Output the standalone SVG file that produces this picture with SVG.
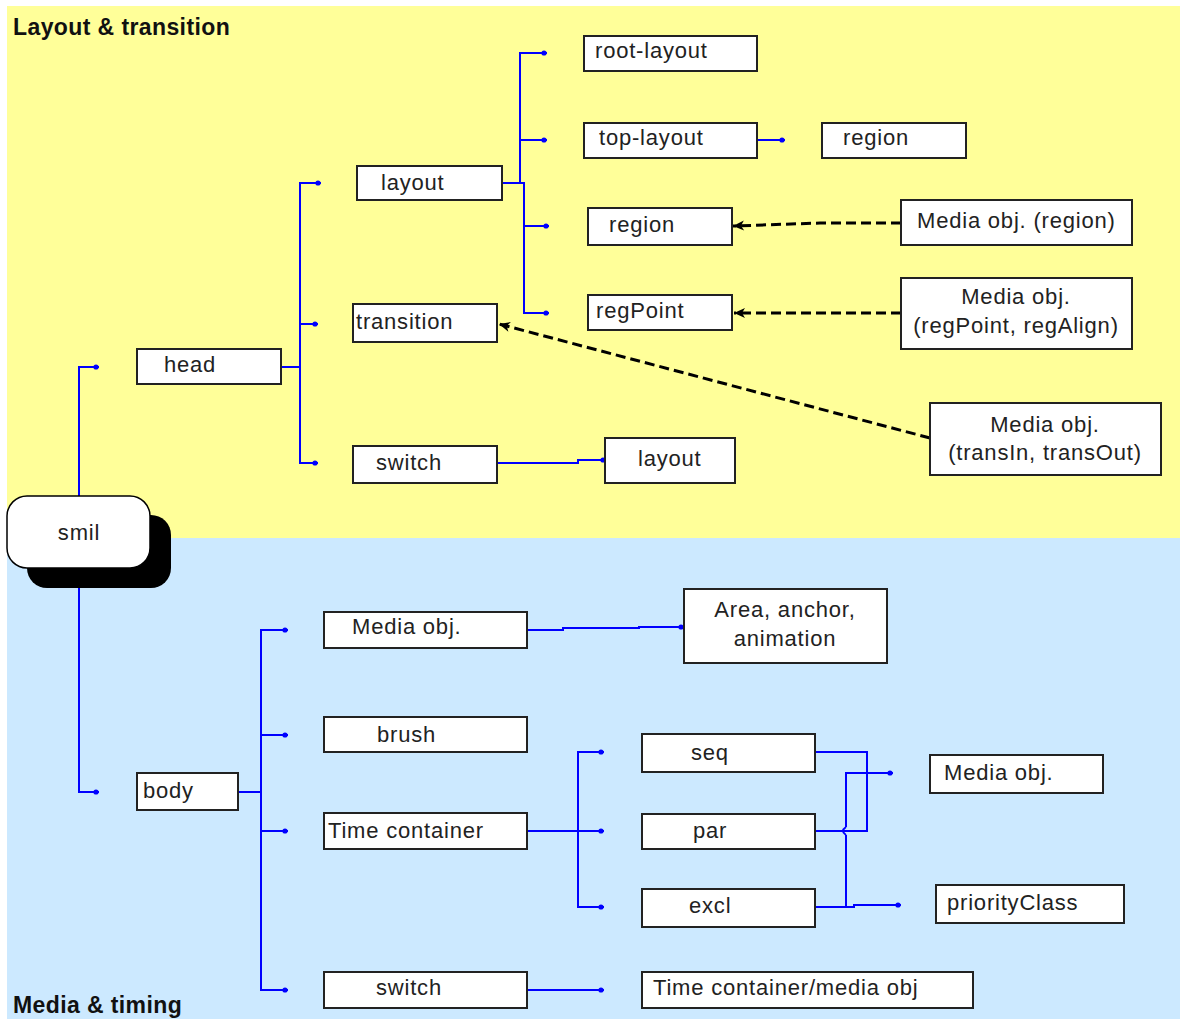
<svg xmlns="http://www.w3.org/2000/svg" width="1180" height="1019" viewBox="0 0 1180 1019">
<style>
.box{fill:#fff;stroke:#222;stroke-width:2}
.t{font-family:"Liberation Sans",Arial,sans-serif;font-size:22px;fill:#222;letter-spacing:0.8px}
.tc{text-anchor:middle}
.title{font-family:"Liberation Sans",Arial,sans-serif;font-size:23px;font-weight:bold;fill:#111;letter-spacing:0.4px}
.c{fill:none;stroke:#0000ff;stroke-width:2}
.cd{marker-end:url(#dot)}
.d{fill:none;stroke:#000;stroke-width:3;stroke-dasharray:10 5;marker-end:url(#arr)}
</style>
<defs>
<marker id="dot" markerUnits="userSpaceOnUse" markerWidth="10" markerHeight="10" viewBox="-6 -5 10 10" refX="0" refY="0" orient="auto">
<circle cx="-3" cy="0" r="2.6" fill="#0000ff"/>
</marker>
<marker id="arr" markerUnits="userSpaceOnUse" markerWidth="14" markerHeight="14" viewBox="-12 -6 14 12" refX="0" refY="0" orient="auto">
<path d="M0,0 L-11,-5 L-8,0 L-11,5 z" fill="#000"/>
</marker>
</defs>
<rect x="0" y="0" width="1180" height="1019" fill="#fff"/>
<rect x="7" y="6" width="1173" height="532" fill="#ffff99"/>
<rect x="7" y="538" width="1173" height="481" fill="#cce9ff"/>
<text class="title" x="13" y="35">Layout &amp; transition</text>
<text class="title" x="13" y="1013">Media &amp; timing</text>

<g id="connectors">
<path class="c cd" d="M79,496 V367 H99"/>
<path class="c cd" d="M79,568 V792 H99"/>
<path class="c" d="M281,367 H300"/>
<path class="c cd" d="M300,367 V183 H321"/>
<path class="c cd" d="M300,324 H318"/>
<path class="c cd" d="M300,367 V463 H318"/>
<path class="c" d="M502,183 H520"/>
<path class="c cd" d="M520,183 V53 H547"/>
<path class="c cd" d="M520,140 H547"/>
<path class="c cd" d="M520,183 H524 V226 H549"/>
<path class="c cd" d="M524,226 V313 H549"/>
<path class="c cd" d="M757,140 H785"/>
<path class="c cd" d="M497,463 H578 V460 H606"/>
<path class="c" d="M238,792 H261"/>
<path class="c cd" d="M261,792 V630 H288"/>
<path class="c cd" d="M261,735 H288"/>
<path class="c cd" d="M261,831 H288"/>
<path class="c cd" d="M261,792 V990 H288"/>
<path class="c cd" d="M527,630 H563 V628 H639 V627 H684"/>
<path class="c" d="M527,831 H578"/>
<path class="c cd" d="M578,831 V752 H604"/>
<path class="c cd" d="M578,831 H604"/>
<path class="c cd" d="M578,831 V907 H604"/>
<path class="c cd" d="M527,990 H604"/>
<path class="c" d="M815,752 H867 V831 H815"/>
<path class="c cd" d="M846,827 V773 H893"/>
<path class="c" d="M846,827 Q840,831 846,835"/>
<path class="c" d="M846,835 V907"/>
<path class="c cd" d="M815,907 H854 V905 H901"/>
<path class="d" d="M901,223 H820 L733,226"/>
<path class="d" d="M901,313 H734"/>
<path class="d" d="M930,438 L499,324"/>
</g>

<g id="smil">
<rect x="27" y="515" width="144" height="73" rx="20" fill="#000"/>
<rect x="7" y="496" width="143" height="72" rx="20" fill="#fff" stroke="#000" stroke-width="1.5"/>
<text class="t tc" x="79" y="540">smil</text>
</g>
<g id="head"><rect class="box" x="137" y="349" width="144" height="35"/><text class="t" x="164" y="372">head</text></g>
<g id="layout"><rect class="box" x="357" y="166" width="145" height="34"/><text class="t" x="381" y="190">layout</text></g>
<g id="transition"><rect class="box" x="353" y="304" width="144" height="38"/><text class="t" x="356" y="329">transition</text></g>
<g id="switch-head"><rect class="box" x="353" y="446" width="144" height="37"/><text class="t" x="376" y="470">switch</text></g>
<g id="root-layout"><rect class="box" x="584" y="36" width="173" height="35"/><text class="t" x="595" y="58">root-layout</text></g>
<g id="top-layout"><rect class="box" x="584" y="123" width="173" height="35"/><text class="t" x="599" y="145">top-layout</text></g>
<g id="region"><rect class="box" x="588" y="208" width="144" height="37"/><text class="t" x="609" y="232">region</text></g>
<g id="regPoint"><rect class="box" x="588" y="295" width="144" height="35"/><text class="t" x="596" y="318">regPoint</text></g>
<g id="region-2"><rect class="box" x="822" y="123" width="144" height="35"/><text class="t" x="843" y="145">region</text></g>
<g id="layout-2"><rect class="box" x="605" y="438" width="130" height="45"/><text class="t" x="638" y="466">layout</text></g>
<g id="media-region"><rect class="box" x="901" y="200" width="231" height="45"/><text class="t" x="917" y="228">Media obj. (region)</text></g>
<g id="media-regpoint"><rect class="box" x="901" y="278" width="231" height="71"/><text class="t tc" x="1016" y="304">Media obj.</text><text class="t tc" x="1016" y="333">(regPoint, regAlign)</text></g>
<g id="media-trans"><rect class="box" x="930" y="403" width="231" height="72"/><text class="t tc" x="1045" y="432">Media obj.</text><text class="t tc" x="1045" y="460">(transIn, transOut)</text></g>

<g id="body"><rect class="box" x="137" y="773" width="101" height="37"/><text class="t" x="143" y="798">body</text></g>
<g id="media-obj"><rect class="box" x="324" y="612" width="203" height="36"/><text class="t" x="352" y="634">Media obj.</text></g>
<g id="brush"><rect class="box" x="324" y="717" width="203" height="35"/><text class="t" x="377" y="742">brush</text></g>
<g id="time-container"><rect class="box" x="324" y="813" width="203" height="36"/><text class="t" x="328" y="838">Time container</text></g>
<g id="switch-body"><rect class="box" x="324" y="972" width="203" height="36"/><text class="t" x="376" y="995">switch</text></g>
<g id="area"><rect class="box" x="684" y="589" width="203" height="74"/><text class="t tc" x="785" y="617">Area, anchor,</text><text class="t tc" x="785" y="646">animation</text></g>
<g id="seq"><rect class="box" x="642" y="734" width="173" height="38"/><text class="t" x="691" y="760">seq</text></g>
<g id="par"><rect class="box" x="642" y="814" width="173" height="35"/><text class="t" x="693" y="838">par</text></g>
<g id="excl"><rect class="box" x="642" y="889" width="173" height="38"/><text class="t" x="689" y="913">excl</text></g>
<g id="time-media"><rect class="box" x="642" y="972" width="331" height="36"/><text class="t" x="653" y="995">Time container/media obj</text></g>
<g id="media-obj-2"><rect class="box" x="930" y="755" width="173" height="38"/><text class="t" x="944" y="780">Media obj.</text></g>
<g id="priorityClass"><rect class="box" x="936" y="885" width="188" height="38"/><text class="t" x="947" y="910">priorityClass</text></g>
</svg>
